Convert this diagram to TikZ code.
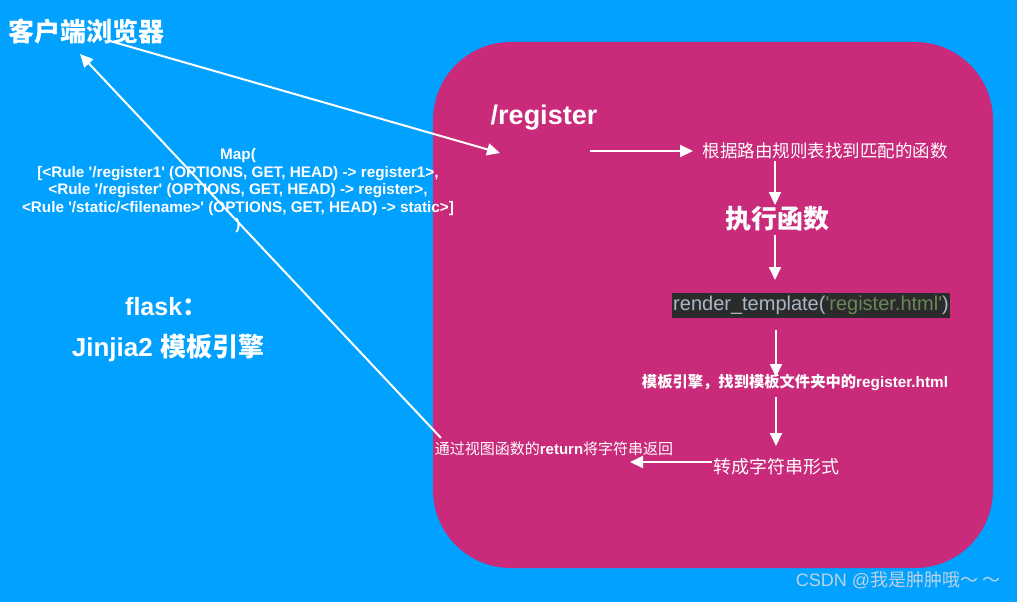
\documentclass[tikz,border=0pt]{standalone}
\usepackage{fontspec}
\setmainfont{Liberation Sans}[Ligatures=TeXOff]
\newfontfamily\zh{Noto Sans CJK SC}
\usetikzlibrary{arrows.meta}
\definecolor{bgblue}{RGB}{0,161,255}
\definecolor{panel}{RGB}{201,42,122}
\definecolor{codebg}{RGB}{43,43,43}
\definecolor{codefg}{RGB}{169,183,198}
\definecolor{codestr}{RGB}{106,135,89}
\definecolor{wmark}{RGB}{190,210,228}
\begin{document}
\begin{tikzpicture}[x=1pt,y=-1pt,
  txt/.style={text=white,inner sep=0pt,anchor=center},
  arr/.style={draw=white,line width=2pt,-{Triangle[length=13pt,width=12pt]}}]
\useasboundingbox (0,0) rectangle (1017,602);
\fill[bgblue] (0,0) rectangle (1017,602);
\fill[panel,rounded corners=78pt] (433,42) rectangle (993,568);

% texts
\node[txt,font=\zh\bfseries\fontsize{26}{28}\selectfont] (client) at (87,32) {客户端浏览器};
\node[txt,font=\bfseries\fontsize{15.3}{17.5}\selectfont,align=center] (map) at (238,191)
 {Map(\\\relax [<Rule '/register1' (OPTIONS, GET, HEAD) -> register1>,\\
 <Rule '/register' (OPTIONS, GET, HEAD) -> register>,\\
 <Rule '/static/<filename>' (OPTIONS, GET, HEAD) -> static>]\\ )};
\node[txt,anchor=west,font=\bfseries\fontsize{25}{28}\selectfont] (flask) at (125,307) {flask{\zh\bfseries ：}};
\node[txt,font=\bfseries\fontsize{26}{28}\selectfont] (jinja) at (168,348) {Jinjia2 {\zh\bfseries 模板引擎}};
\node[txt,font=\bfseries\fontsize{27}{30}\selectfont] (reg) at (544,118) {/register};
\node[txt,font=\zh\fontsize{17.5}{20}\selectfont] (find) at (825,151) {根据路由规则表找到匹配的函数};
\node[txt,font=\zh\bfseries\fontsize{26}{28}\selectfont] (exec) at (777,219) {执行函数};
\node[fill=codebg,inner xsep=1pt,inner ysep=3pt,minimum height=25pt,font=\fontsize{20}{22}\selectfont] (render) at (811,305)
 {\textcolor{codefg}{render\_template(}\textcolor{codestr}{'register.html'}\textcolor{codefg}{)}};
\node[txt,font=\fontsize{15.3}{18}\selectfont] (engine) at (795,382) {{\zh\bfseries 模板引擎，找到模板文件夹中的}\textbf{register.html}};
\node[txt,font=\zh\fontsize{18}{20}\selectfont] (conv) at (776,467) {转成字符串形式};
\node[txt,font=\fontsize{15}{18}\selectfont] (ret) at (554,449) {{\zh 通过视图函数的}\textbf{return}{\zh 将字符串返回}};
\node[txt,text=wmark,font=\fontsize{18}{20}\selectfont] (csdn) at (898,580) {CSDN @{\zh 我是肿肿哦～ ～}};

% connector end points
\coordinate (c1s) at (110,41);
\coordinate (c1e) at (500,153);
\coordinate (c2s) at (441,438);
\coordinate (c2e) at (80,54);
\coordinate (r1) at (590,151);
\coordinate (r2) at (693,151);
\coordinate (v1a) at (775,161);
\coordinate (v1b) at (775,205);
\coordinate (v2a) at (775,235);
\coordinate (v2b) at (775,280);
\coordinate (v3a) at (776,330);
\coordinate (v3b) at (776,377);
\coordinate (v4a) at (776,397);
\coordinate (v4b) at (776,446);
\coordinate (h1) at (712,462);
\coordinate (h2) at (630,462);

\draw[arr] (c1s) -- (c1e);
\draw[arr] (c2s) -- (c2e);
\draw[arr] (r1) -- (r2);
\draw[arr] (v1a) -- (v1b);
\draw[arr] (v2a) -- (v2b);
\draw[arr] (v3a) -- (v3b);
\draw[arr] (v4a) -- (v4b);
\draw[arr] (h1) -- (h2);
\end{tikzpicture}
\end{document}
